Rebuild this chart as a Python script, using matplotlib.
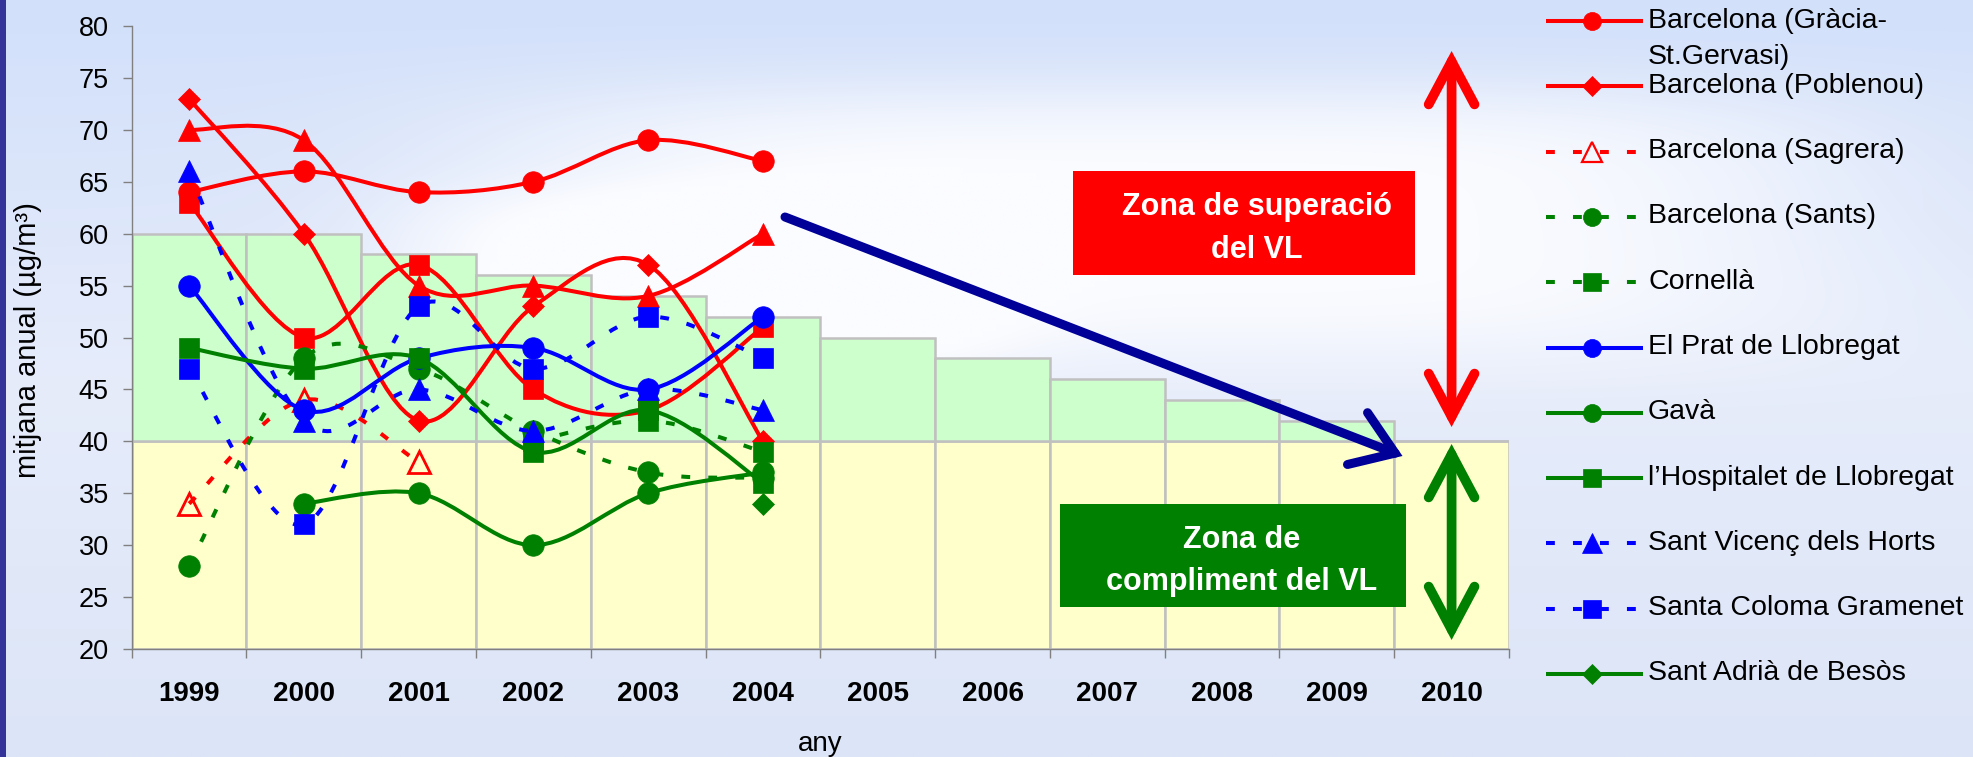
import numpy as np
import matplotlib
matplotlib.use('Agg')
import matplotlib.pyplot as plt
from matplotlib.path import Path
from matplotlib.patches import PathPatch, Rectangle, FancyArrowPatch, ArrowStyle
from matplotlib.lines import Line2D

plt.rcParams['font.family'] = ['Liberation Sans', 'DejaVu Sans']

# ---------------- data ----------------
years = ['1999', '2000', '2001', '2002', '2003', '2004',
         '2005', '2006', '2007', '2008', '2009', '2010']
limit_plus_margin = [60, 60, 58, 56, 54, 52, 50, 48, 46, 44, 42, 40]
limit_value = 40
axis_min = 20
nan = np.nan

red_triangle_series = [70, 69, 55, 55, 54, 60]     # unlabeled (legend cut)
red_square_series = [63, 50, 57, 45, 43, 51]       # unlabeled (legend cut)
gracia = [64, 66, 64, 65, 69, 67]
poblenou = [73, 60, 42, 53, 57, 40]
sagrera = [34, 44, 38, nan, nan, nan]
sants = [28, 48, 47, 41, 37, 36.5]
cornella = [nan, nan, nan, 40, 42, 39]
el_prat = [55, 43, 48, 49, 45, 52]
gava = [nan, 34, 35, 30, 35, 37]
hospitalet = [49, 47, 48, 39, 43, 36]
sant_vicenc = [66, 42, 45, 41, 45, 43]
santa_coloma = [47, 32, 53, 47, 52, 48]
sant_adria = [nan, nan, nan, nan, nan, 34]

RED, GREEN, BLUE = '#FF0000', '#008000', '#0000FF'

# (values, label, color, dashed, marker, open)
series = [
    (red_triangle_series, None, RED, False, '^', False),
    (red_square_series, None, RED, False, 's', False),
    (gracia, 'Barcelona (Gràcia-\nSt.Gervasi)', RED, False, 'o', False),
    (poblenou, 'Barcelona (Poblenou)', RED, False, 'D', False),
    (sagrera, 'Barcelona (Sagrera)', RED, True, '^', True),
    (sants, 'Barcelona (Sants)', GREEN, True, 'o', False),
    (cornella, 'Cornellà', GREEN, True, 's', False),
    (el_prat, 'El Prat de Llobregat', BLUE, False, 'o', False),
    (gava, 'Gavà', GREEN, False, 'o', False),
    (hospitalet, 'l’Hospitalet de Llobregat', GREEN, False, 's', False),
    (sant_vicenc, 'Sant Vicenç dels Horts', BLUE, True, '^', False),
    (santa_coloma, 'Santa Coloma Gramenet', BLUE, True, 's', False),
    (sant_adria, 'Sant Adrià de Besòs', GREEN, False, 'D', False),
]

# ---------------- figure ----------------
W, H = 1973, 757
fig = plt.figure(figsize=(W / 100, H / 100), dpi=100)


def fx(px):
    return px / W


def fy(py):
    return 1 - py / H


# background (sky with clouds)
bg = fig.add_axes([0, 0, 1, 1], zorder=-10)
bg.axis('off')
ny, nx = 120, 300
yy, xx = np.mgrid[0:ny, 0:nx]
X = xx / (nx - 1) * W
Y = yy / (ny - 1) * H
t = (Y / H)[..., None]
top_c = np.array([210, 224, 250])
mid_c = np.array([230, 236, 250])
bot_c = np.array([220, 229, 247])
img = np.where(t < 0.5, top_c * (1 - 2 * t) + mid_c * 2 * t,
               mid_c * (2 - 2 * t) + bot_c * (2 * t - 1))
c1 = np.exp(-((X - 1160) / 680) ** 4 - ((Y - 225) / 140) ** 4)
c2 = np.exp(-((X - 700) / 300) ** 4 - ((Y - 290) / 100) ** 4) * 0.8
cloud = np.clip(c1 + c2, 0, 1)[..., None]
white = np.array([251, 252, 255])
img = img * (1 - cloud) + white * cloud
bg.imshow(img / 255.0, extent=[0, 1, 0, 1], aspect='auto',
          interpolation='bilinear', origin='upper')
bg.set_xlim(0, 1)
bg.set_ylim(0, 1)
fig.add_artist(Rectangle((0, 0), fx(6), 1, transform=fig.transFigure,
                         fc='#333399', ec='none', zorder=-5))

# main axes
ax_l, ax_r, ax_t, ax_b = 131.7, 1509, 26, 649
ax = fig.add_axes([fx(ax_l), fy(ax_b), (ax_r - ax_l) / W, (ax_b - ax_t) / H])
ax.patch.set_alpha(0)

xpos = np.arange(len(years))
ax.bar(xpos, [limit_value - axis_min] * len(years), bottom=axis_min, width=1.0,
       color='#FFFFCC', edgecolor='#C0C0C0', linewidth=1.8, zorder=1)
ax.bar(xpos, np.array(limit_plus_margin) - limit_value, bottom=limit_value,
       width=1.0, color='#CCFFCC', edgecolor='#C0C0C0', linewidth=1.8, zorder=1)

ax.set_xlim(-0.5, len(years) - 0.5)
ax.set_ylim(20, 80)


def smooth_path(xs, ys):
    verts, codes = [], []
    pts = [(x, y) for x, y in zip(xs, ys)]
    runs, cur = [], []
    for p in pts:
        if np.isnan(p[1]):
            if cur:
                runs.append(cur)
            cur = []
        else:
            cur.append(np.array(p, dtype=float))
    if cur:
        runs.append(cur)
    for r in runs:
        if len(r) < 2:
            continue
        n = len(r)
        verts.append(tuple(r[0]))
        codes.append(Path.MOVETO)
        for i in range(n - 1):
            p_prev = r[i - 1] if i > 0 else r[i]
            p_next2 = r[i + 2] if i + 2 < n else r[i + 1]
            c1 = r[i] + (r[i + 1] - p_prev) / 6.0
            c2 = r[i + 1] - (p_next2 - r[i]) / 6.0
            verts += [tuple(c1), tuple(c2), tuple(r[i + 1])]
            codes += [Path.CURVE4] * 3
    if not verts:
        return None
    return Path(verts, codes)


LW = 2.9
DASH = (2.2, 4.5)
msize = {'o': 15.5, 's': 15, '^': 16, 'D': 11.5}
leg_msize = {'o': 13, 's': 12.5, '^': 14, 'D': 10}

data_x = np.arange(6)
for k, (vals, label, col, dashed, mk, hollow) in enumerate(series):
    path = smooth_path(data_x, vals)
    z = 3 + k * 0.01
    if path is not None:
        pp = PathPatch(path, fill=False, edgecolor=col, lw=LW, zorder=z,
                       capstyle='butt', joinstyle='round')
        if dashed:
            pp.set_linestyle((0, DASH))
        ax.add_patch(pp)
    ax.plot(data_x, vals, linestyle='none', marker=mk, markersize=msize[mk],
            markerfacecolor='none' if hollow else col, markeredgecolor=col,
            markeredgewidth=2 if hollow else 0.5, zorder=z + 0.005)

# axes styling
for s in ['top', 'right']:
    ax.spines[s].set_visible(False)
for s in ['left', 'bottom']:
    ax.spines[s].set_color('#808080')
    ax.spines[s].set_linewidth(1.0)
ax.set_yticks(range(20, 81, 5))
ax.tick_params(axis='y', direction='out', length=6.5, width=1, color='#808080',
               labelsize=19.5, pad=10, labelcolor='black')
ax.set_xticks(np.arange(-0.5, len(years), 1.0))
ax.set_xticklabels([])
ax.set_xticks(xpos, minor=True)
ax.set_xticklabels(years, minor=True, fontweight='bold', fontsize=20)
ax.tick_params(axis='x', which='major', direction='out', length=6.5, width=1,
               color='#808080')
ax.tick_params(axis='x', which='minor', length=0, pad=23)

ax.set_xlabel('any', fontsize=20, va='baseline')
ax.xaxis.set_label_coords(0.5, -(751 - ax_b) / (ax_b - ax_t))
ax.set_ylabel('mitjana anual (µg/m³)', fontsize=21, va='center')
ax.yaxis.set_label_coords((28 - ax_l) / (ax_r - ax_l), (ax_b - 340.5) / (ax_b - ax_t))

# legend (manual, as in the original with a wrapped first entry)
leg_items = [s for s in series if s[1] is not None]
for k, (vals, label, col, dashed, mk, hollow) in enumerate(leg_items):
    yk = 21 + 65.3 * k
    ln = Line2D([fx(1546), fx(1643)], [fy(yk), fy(yk)], transform=fig.transFigure,
                color=col, lw=LW, solid_capstyle='butt')
    if dashed:
        ln.set_dashes(DASH)
    fig.add_artist(ln)
    mkln = Line2D([fx(1592)], [fy(yk)], transform=fig.transFigure, linestyle='none',
                  marker=mk, markersize=leg_msize[mk],
                  markerfacecolor='none' if hollow else col, markeredgecolor=col,
                  markeredgewidth=1.6 if hollow else 0.5)
    fig.add_artist(mkln)
    lines = label.split('\n')
    for j, txt in enumerate(lines):
        fig.text(fx(1648), fy(yk + 6.5 + 36 * j), txt, fontsize=20.5,
                 va='baseline', ha='left', color='black')

# zone boxes
fig.add_artist(Rectangle((fx(1073), fy(275)), fx(1415) - fx(1073), fy(171) - fy(275),
                         transform=fig.transFigure, fc='#FF0000', ec='none', zorder=5))
fig.text(fx(1257), fy(215), 'Zona de superació', color='white', fontsize=22,
         fontweight='bold', ha='center', va='baseline', zorder=6)
fig.text(fx(1257), fy(258), 'del VL', color='white', fontsize=22,
         fontweight='bold', ha='center', va='baseline', zorder=6)

fig.add_artist(Rectangle((fx(1060), fy(607)), fx(1406) - fx(1060), fy(504) - fy(607),
                         transform=fig.transFigure, fc='#008000', ec='none', zorder=5))
fig.text(fx(1242), fy(548), 'Zona de', color='white', fontsize=22,
         fontweight='bold', ha='center', va='baseline', zorder=6)
fig.text(fx(1242), fy(590), 'compliment del VL', color='white', fontsize=22,
         fontweight='bold', ha='center', va='baseline', zorder=6)

# arrows
def add_arrow(p0, p1, style, col, lw):
    a = FancyArrowPatch((fx(p0[0]), fy(p0[1])), (fx(p1[0]), fy(p1[1])),
                        transform=fig.transFigure, arrowstyle=style,
                        mutation_scale=1, lw=lw, color=col, shrinkA=0, shrinkB=0,
                        capstyle='round', joinstyle='miter', zorder=7)
    fig.add_artist(a)


add_arrow((1451.6, 427), (1451.6, 51), ArrowStyle('<->', head_length=31, head_width=16.5),
          RED, 7)
add_arrow((1451.6, 640), (1451.6, 444), ArrowStyle('<->', head_length=31, head_width=16.5),
          GREEN, 7)
add_arrow((785, 217), (1402.5, 456), ArrowStyle('->', head_length=29, head_width=20),
          '#000099', 6.5)

fig.savefig('out.png', dpi=100)
